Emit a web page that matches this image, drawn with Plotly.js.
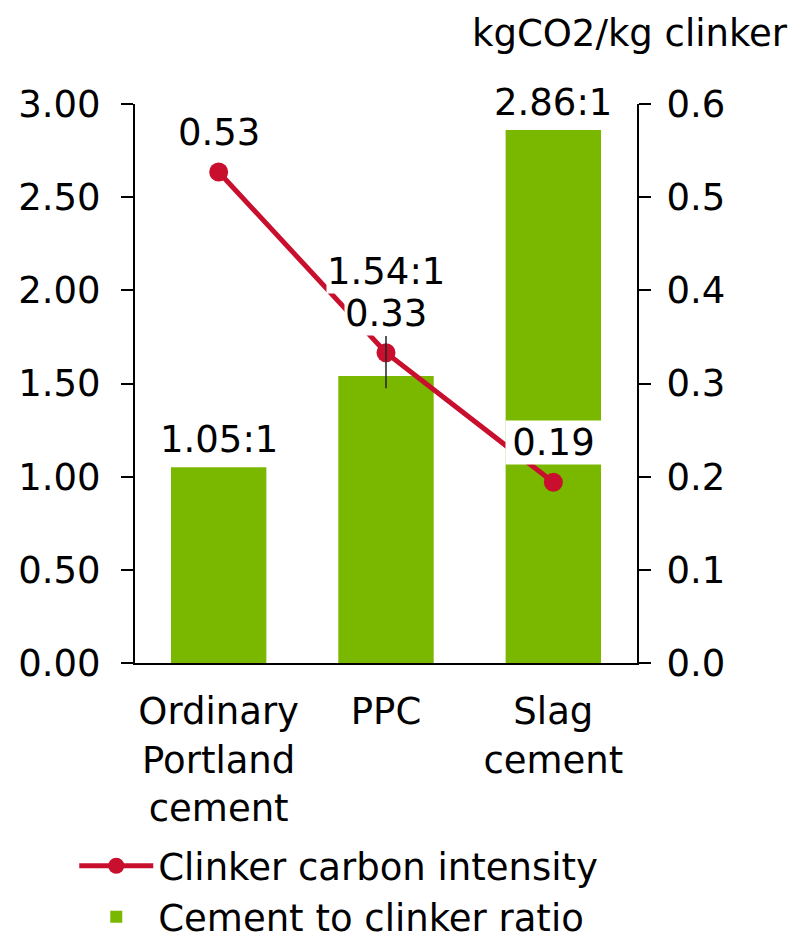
<!DOCTYPE html>
<html>
<head>
<meta charset="utf-8">
<script src="https://cdn.plot.ly/plotly-3.0.1.min.js"></script>
<style>
  html, body { margin: 0; padding: 0; background: #fff; }
  #chart { width: 803px; height: 939px; }
</style>
</head>
<body>
<div id="chart"></div>
<script>
// cement types on the x axis
const categories = ["Ordinary<br>Portland<br>cement", "PPC", "Slag<br>cement"];

// cement to clinker ratio (left axis)
const ratio = [1.05, 1.54, 2.86];
const ratioLabels = ["1.05:1", "1.54:1", "2.86:1"];

// clinker carbon intensity, kgCO2/kg clinker (right axis)
const intensity = [0.527, 0.333, 0.194];
const intensityLabels = ["0.53", "0.33", "0.19"];

// range line drawn on the PPC point
const ppcRangeLow = 0.295;
const ppcRangeHigh = 0.351;

const green = "#7ab800";
const red = "#c8102e";
const font = "DejaVu Sans, Verdana, sans-serif";
const fs = 37;

const lineTrace = {
  x: categories,
  y: intensity,
  yaxis: "y2",
  type: "scatter",
  mode: "lines+markers",
  name: "Clinker carbon intensity",
  line: { color: red, width: 5 },
  marker: { color: red, size: 19 },
  cliponaxis: false,
};

const rangeTrace = {
  x: [categories[1], categories[1]],
  y: [ppcRangeLow, ppcRangeHigh],
  yaxis: "y2",
  type: "scatter",
  mode: "lines",
  line: { color: "#222", width: 1.5 },
  showlegend: false,
  hoverinfo: "skip",
};

const barTrace = {
  x: categories,
  y: ratio,
  type: "bar",
  name: "Cement to clinker ratio",
  marker: { color: green },
};

// value labels with white boxes (ratio labels above bars, intensity above points)
const annotations = [];
const ratioShift = [5, 82, 5];
ratio.forEach((v, i) => {
  annotations.push({
    x: categories[i], y: v, xref: "x", yref: "y",
    text: ratioLabels[i], showarrow: false,
    yanchor: "bottom", yshift: ratioShift[i],
    bgcolor: "#fff", borderpad: 0,
    font: { family: font, size: fs, color: "#000" },
  });
});
const intensityBoxWidth = [null, null, 95];
intensity.forEach((v, i) => {
  const a = {
    x: categories[i], y: v, xref: "x", yref: "y2",
    text: intensityLabels[i], showarrow: false,
    yanchor: "bottom", yshift: 17,
    bgcolor: "#fff", borderpad: 0,
    font: { family: font, size: fs, color: "#000" },
  };
  if (intensityBoxWidth[i]) a.width = intensityBoxWidth[i];
  annotations.push(a);
});
annotations.push({
  xref: "paper", yref: "paper", x: 1.305, y: 1.126,
  xanchor: "right", yanchor: "middle",
  text: "kgCO2/kg clinker", showarrow: false,
  font: { family: font, size: fs, color: "#000" },
});

const layout = {
  width: 803,
  height: 939,
  margin: { l: 135, r: 166, t: 104, b: 276, autoexpand: false },
  paper_bgcolor: "#fff",
  plot_bgcolor: "#fff",
  font: { family: font, size: fs, color: "#000" },
  bargap: 0.43,
  showlegend: true,
  legend: {
    x: -0.121, y: -0.308, xanchor: "left", yanchor: "top",
    orientation: "v",
    itemwidth: 74,
    font: { family: font, size: fs, color: "#000" },
    tracegroupgap: 0,
  },
  xaxis: {
    showline: true, linecolor: "#000", linewidth: 2,
    ticks: "", showgrid: false, zeroline: false,
    ticklabelstandoff: 15,
  },
  yaxis: {
    range: [0, 3], dtick: 0.5, tickformat: ".2f",
    showline: true, linecolor: "#000", linewidth: 2,
    ticks: "outside", ticklen: 12, tickwidth: 2, tickcolor: "#000",
    showgrid: false, zeroline: false,
    ticklabelstandoff: 13,
  },
  yaxis2: {
    range: [0, 0.6], dtick: 0.1, tickformat: ".1f",
    overlaying: "y", side: "right",
    showline: true, linecolor: "#000", linewidth: 2,
    ticks: "outside", ticklen: 12, tickwidth: 2, tickcolor: "#000",
    showgrid: false, zeroline: false,
    ticklabelstandoff: 8,
  },
  annotations: annotations,
};

Plotly.newPlot("chart", [lineTrace, rangeTrace, barTrace], layout, { displayModeBar: false, staticPlot: true });
</script>
</body>
</html>
